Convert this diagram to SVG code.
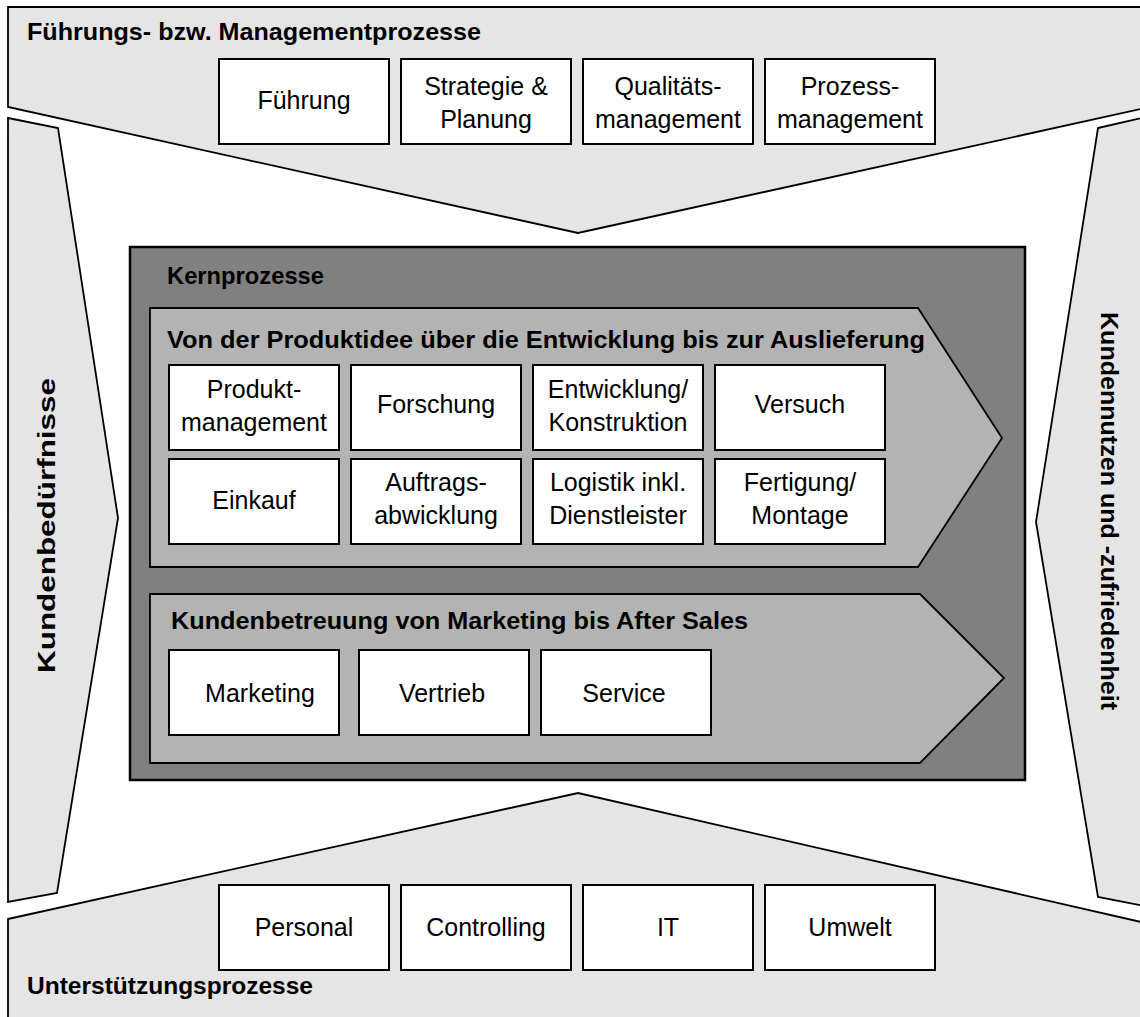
<svg xmlns="http://www.w3.org/2000/svg" width="1140" height="1017" viewBox="0 0 1140 1017">
<style>
.band{fill:#e5e5e5;stroke:#000;stroke-width:1.8;stroke-linejoin:miter}
.core{fill:#808080;stroke:#000;stroke-width:2.5}
.chev{fill:#b3b3b3;stroke:#000;stroke-width:1.8}
.box{fill:#fff;stroke:#000;stroke-width:2}
.t{font-family:"Liberation Sans",Arial,sans-serif;font-size:25px;fill:#000;text-anchor:middle}
.h{font-family:"Liberation Sans",Arial,sans-serif;font-weight:bold;font-size:24px;fill:#000}
</style>
<rect width="1140" height="1017" fill="#fff"/>
<g id="band-top">
<polygon class="band" points="8,7 1150,7 1150,107 578,233 8,107"/>
<text class="h" x="27" y="40" textLength="454" lengthAdjust="spacingAndGlyphs">Führungs- bzw. Managementprozesse</text>
</g>
<g id="band-left">
<polygon class="band" points="8,118 58,128 118,518 57,893 8,902"/>
<text class="h" transform="translate(55,673) rotate(-90)" textLength="295" lengthAdjust="spacingAndGlyphs">Kundenbedürfnisse</text>
</g>
<g id="band-right">
<polygon class="band" points="1098,128 1150,116 1150,907 1098,897 1036,522"/>
<text class="h" transform="translate(1101,312) rotate(90)" textLength="398" lengthAdjust="spacingAndGlyphs">Kundennutzen und -zufriedenheit</text>
</g>
<g id="band-bottom">
<polygon class="band" points="8,919 578,793 1150,924 1150,1030 8,1030"/>
<text class="h" x="27" y="994" textLength="286" lengthAdjust="spacingAndGlyphs">Unterstützungsprozesse</text>
</g>
<g id="top-boxes">
<g id="fuehrung"><rect class="box" x="219" y="59" width="170" height="85"/><text class="t" x="304" y="109">Führung</text></g>
<g id="strategie"><rect class="box" x="401" y="59" width="170" height="85"/><text class="t" x="486" y="95">Strategie &amp;</text><text class="t" x="486" y="128">Planung</text></g>
<g id="qualitaet"><rect class="box" x="583" y="59" width="170" height="85"/><text class="t" x="668" y="95">Qualitäts-</text><text class="t" x="668" y="128">management</text></g>
<g id="prozess"><rect class="box" x="765" y="59" width="170" height="85"/><text class="t" x="850" y="95">Prozess-</text><text class="t" x="850" y="128">management</text></g>
</g>
<g id="kernprozesse">
<rect class="core" x="130" y="247" width="895" height="533"/>
<text class="h" x="167" y="284" textLength="157" lengthAdjust="spacingAndGlyphs">Kernprozesse</text>
</g>
<g id="chevron-produkt">
<polygon class="chev" points="150,308 918,308 1002,438 918,567 150,567"/>
<text class="h" x="167" y="348" textLength="758" lengthAdjust="spacingAndGlyphs">Von der Produktidee über die Entwicklung bis zur Auslieferung</text>
</g>
<g id="chevron-kunde">
<polygon class="chev" points="150,594 920,594 1004,678 920,763 150,763"/>
<text class="h" x="171" y="629" textLength="577" lengthAdjust="spacingAndGlyphs">Kundenbetreuung von Marketing bis After Sales</text>
</g>
<g id="core-boxes">
<g id="produktmanagement"><rect class="box" x="169" y="365" width="170" height="85"/><text class="t" x="254" y="398">Produkt-</text><text class="t" x="254" y="431">management</text></g>
<g id="forschung"><rect class="box" x="351" y="365" width="170" height="85"/><text class="t" x="436" y="413">Forschung</text></g>
<g id="entwicklung"><rect class="box" x="533" y="365" width="170" height="85"/><text class="t" x="618" y="398">Entwicklung/</text><text class="t" x="618" y="431">Konstruktion</text></g>
<g id="versuch"><rect class="box" x="715" y="365" width="170" height="85"/><text class="t" x="800" y="413">Versuch</text></g>
<g id="einkauf"><rect class="box" x="169" y="459" width="170" height="85"/><text class="t" x="254" y="509">Einkauf</text></g>
<g id="auftrag"><rect class="box" x="351" y="459" width="170" height="85"/><text class="t" x="436" y="491">Auftrags-</text><text class="t" x="436" y="524">abwicklung</text></g>
<g id="logistik"><rect class="box" x="533" y="459" width="170" height="85"/><text class="t" x="618" y="491">Logistik inkl.</text><text class="t" x="618" y="524">Dienstleister</text></g>
<g id="fertigung"><rect class="box" x="715" y="459" width="170" height="85"/><text class="t" x="800" y="491">Fertigung/</text><text class="t" x="800" y="524">Montage</text></g>
<g id="marketing"><rect class="box" x="169" y="650" width="170" height="85"/><text class="t" x="260" y="702">Marketing</text></g>
<g id="vertrieb"><rect class="box" x="359" y="650" width="170" height="85"/><text class="t" x="442" y="702">Vertrieb</text></g>
<g id="service"><rect class="box" x="541" y="650" width="170" height="85"/><text class="t" x="624" y="702">Service</text></g>
</g>
<g id="bottom-boxes">
<g id="personal"><rect class="box" x="219" y="885" width="170" height="85"/><text class="t" x="304" y="936">Personal</text></g>
<g id="controlling"><rect class="box" x="401" y="885" width="170" height="85"/><text class="t" x="486" y="936">Controlling</text></g>
<g id="it"><rect class="box" x="583" y="885" width="170" height="85"/><text class="t" x="668" y="936">IT</text></g>
<g id="umwelt"><rect class="box" x="765" y="885" width="170" height="85"/><text class="t" x="850" y="936">Umwelt</text></g>
</g>
<g id="connectors"/>
</svg>
